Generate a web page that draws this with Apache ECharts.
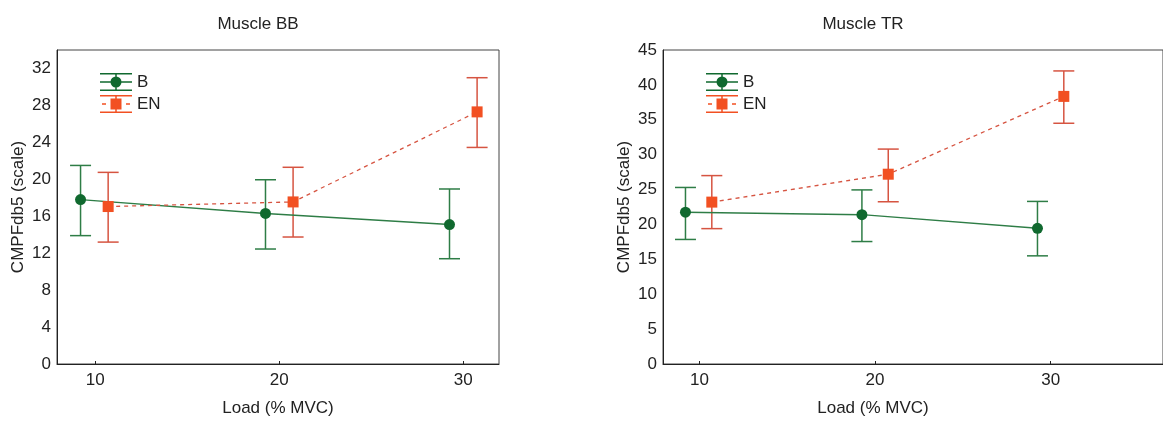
<!DOCTYPE html>
<html>
<head>
<meta charset="utf-8">
<script src="https://cdn.jsdelivr.net/npm/echarts@6/dist/echarts.min.js"></script>
<style>
  html, body { margin: 0; padding: 0; background: #fff; }
  #chart { width: 1163px; height: 424px; }
</style>
</head>
<body>
<div id="chart"></div>
<script>
// x positions (load, % MVC) - groups are dodged around 10/20/30
const loadTicks = [10, 20, 30];
const xB = [9.2, 19.25, 29.25];
const xEN = [10.7, 20.75, 30.75];

// Muscle BB
const bbMeanB = [17.8, 16.3, 15.1];
const bbLowB = [13.9, 12.45, 11.4];
const bbHighB = [21.5, 19.95, 18.95];
const bbMeanEN = [17.05, 17.55, 27.3];
const bbLowEN = [13.2, 13.75, 23.45];
const bbHighEN = [20.75, 21.3, 31.0];

// Muscle TR
const trMeanB = [21.75, 21.4, 19.45];
const trLowB = [17.85, 17.55, 15.5];
const trHighB = [25.3, 24.95, 23.3];
const trMeanEN = [23.2, 27.2, 38.35];
const trLowEN = [19.4, 23.25, 34.5];
const trHighEN = [27.0, 30.8, 42.0];

const font = "'Liberation Sans', Arial, sans-serif";
const txt = '#222';
const greenLine = '#2e7d46';
const greenDot = '#10692f';
const redLine = '#d65441';
const redDot = '#f25022';

const iconB = 'path://M0 0H32V1.5H0Z M0 16.5H32V18H0Z M15.25 0H16.75V18H15.25Z M0 8.25H32V9.75H0Z M10.5 9A5.5 5.5 0 1 1 21.5 9A5.5 5.5 0 1 1 10.5 9Z';
const iconEN = 'path://M0 0H32V1.5H0Z M0 16.5H32V18H0Z M15.25 0H16.75V18H15.25Z M2 8.25H6V9.75H2Z M26 8.25H30V9.75H26Z M10.5 3.5H21.5V14.5H10.5Z';

const pairs = (xs, ys) => xs.map((x, i) => [x, ys[i]]);
const bars = (xs, lo, hi) => xs.map((x, i) => [x, lo[i], hi[i]]);

function errorBar(color) {
  return function (params, api) {
    const x = api.value(0);
    const lo = api.coord([x, api.value(1)]);
    const hi = api.coord([x, api.value(2)]);
    const hw = 10.5;
    const style = { stroke: color, lineWidth: 1.5, fill: null };
    return {
      type: 'group',
      children: [
        { type: 'line', shape: { x1: hi[0], y1: hi[1], x2: lo[0], y2: lo[1] }, style },
        { type: 'line', shape: { x1: hi[0] - hw, y1: hi[1], x2: hi[0] + hw, y2: hi[1] }, style },
        { type: 'line', shape: { x1: lo[0] - hw, y1: lo[1], x2: lo[0] + hw, y2: lo[1] }, style }
      ]
    };
  };
}

function xAxis(gridIndex, max, padRight) {
  return {
    type: 'value', gridIndex, min: 7.92, max,
    name: 'Load (% MVC)', nameLocation: 'middle', nameGap: 36,
    nameTextStyle: { fontFamily: font, fontSize: 17, color: txt, padding: [0, padRight, 0, 0] },
    axisLine: { show: true, lineStyle: { color: '#222', width: 1 } },
    axisTick: { show: true, inside: true, length: 3, customValues: loadTicks, lineStyle: { color: '#222' } },
    axisLabel: { customValues: loadTicks, fontFamily: font, fontSize: 17, color: txt, margin: 8 },
    splitLine: { show: false }
  };
}

function yAxis(gridIndex, max, interval) {
  return {
    type: 'value', gridIndex, min: 0, max, interval,
    name: 'CMPFdb5 (scale)', nameLocation: 'middle', nameGap: 30,
    nameTextStyle: { fontFamily: font, fontSize: 17, color: txt },
    axisLine: { show: true, lineStyle: { color: '#222', width: 1 } },
    axisTick: { show: false },
    axisLabel: { fontFamily: font, fontSize: 17, color: txt, margin: 6, showMaxLabel: max % interval === 0 },
    splitLine: { show: false }
  };
}

function legend(left) {
  return {
    orient: 'vertical', left, top: 68,
    itemWidth: 32, itemHeight: 18, itemGap: 4,
    itemStyle: { borderWidth: 0 },
    textStyle: { fontFamily: font, fontSize: 17, color: txt },
    data: [{ name: 'B', icon: iconB }, { name: 'EN', icon: iconEN }]
  };
}

function seriesFor(i, mB, loB, hiB, mEN, loEN, hiEN) {
  return [
    {
      name: 'B', type: 'line', xAxisIndex: i, yAxisIndex: i, data: pairs(xB, mB),
      symbol: 'circle', symbolSize: 11, z: 5,
      lineStyle: { color: greenLine, width: 1.4 },
      itemStyle: { color: greenDot, borderWidth: 0 }
    },
    {
      name: 'EN', type: 'line', xAxisIndex: i, yAxisIndex: i, data: pairs(xEN, mEN),
      symbol: 'rect', symbolSize: 11, z: 5,
      lineStyle: { color: redLine, width: 1.3, type: [4, 4] },
      itemStyle: { color: redDot, borderWidth: 0 }
    },
    {
      name: 'B', type: 'custom', xAxisIndex: i, yAxisIndex: i, data: bars(xB, loB, hiB),
      encode: { x: 0, y: [1, 2] }, renderItem: errorBar(greenLine), z: 3
    },
    {
      name: 'EN', type: 'custom', xAxisIndex: i, yAxisIndex: i, data: bars(xEN, loEN, hiEN),
      encode: { x: 0, y: [1, 2] }, renderItem: errorBar(redLine), z: 3
    }
  ];
}

const chart = echarts.init(document.getElementById('chart'));
chart.setOption({
  animation: false,
  backgroundColor: '#fff',
  title: [
    { text: 'Muscle BB', left: 253, top: 11, textAlign: 'center',
      textStyle: { fontFamily: font, fontSize: 17, fontWeight: 'normal', color: txt } },
    { text: 'Muscle TR', left: 858, top: 11, textAlign: 'center',
      textStyle: { fontFamily: font, fontSize: 17, fontWeight: 'normal', color: txt } }
  ],
  legend: [legend(95), legend(701)],
  grid: [
    { left: 57, top: 50, width: 442, height: 314, show: true, borderColor: '#444', borderWidth: 1 },
    { left: 663, top: 50, width: 520, height: 314, show: true, borderColor: '#444', borderWidth: 1 }
  ],
  xAxis: [xAxis(0, 31.94, 0), xAxis(1, 36.4, 80)],
  yAxis: [yAxis(0, 34, 4), yAxis(1, 45, 5)],
  series: [
    ...seriesFor(0, bbMeanB, bbLowB, bbHighB, bbMeanEN, bbLowEN, bbHighEN),
    ...seriesFor(1, trMeanB, trLowB, trHighB, trMeanEN, trLowEN, trHighEN)
  ]
});
</script>
</body>
</html>
